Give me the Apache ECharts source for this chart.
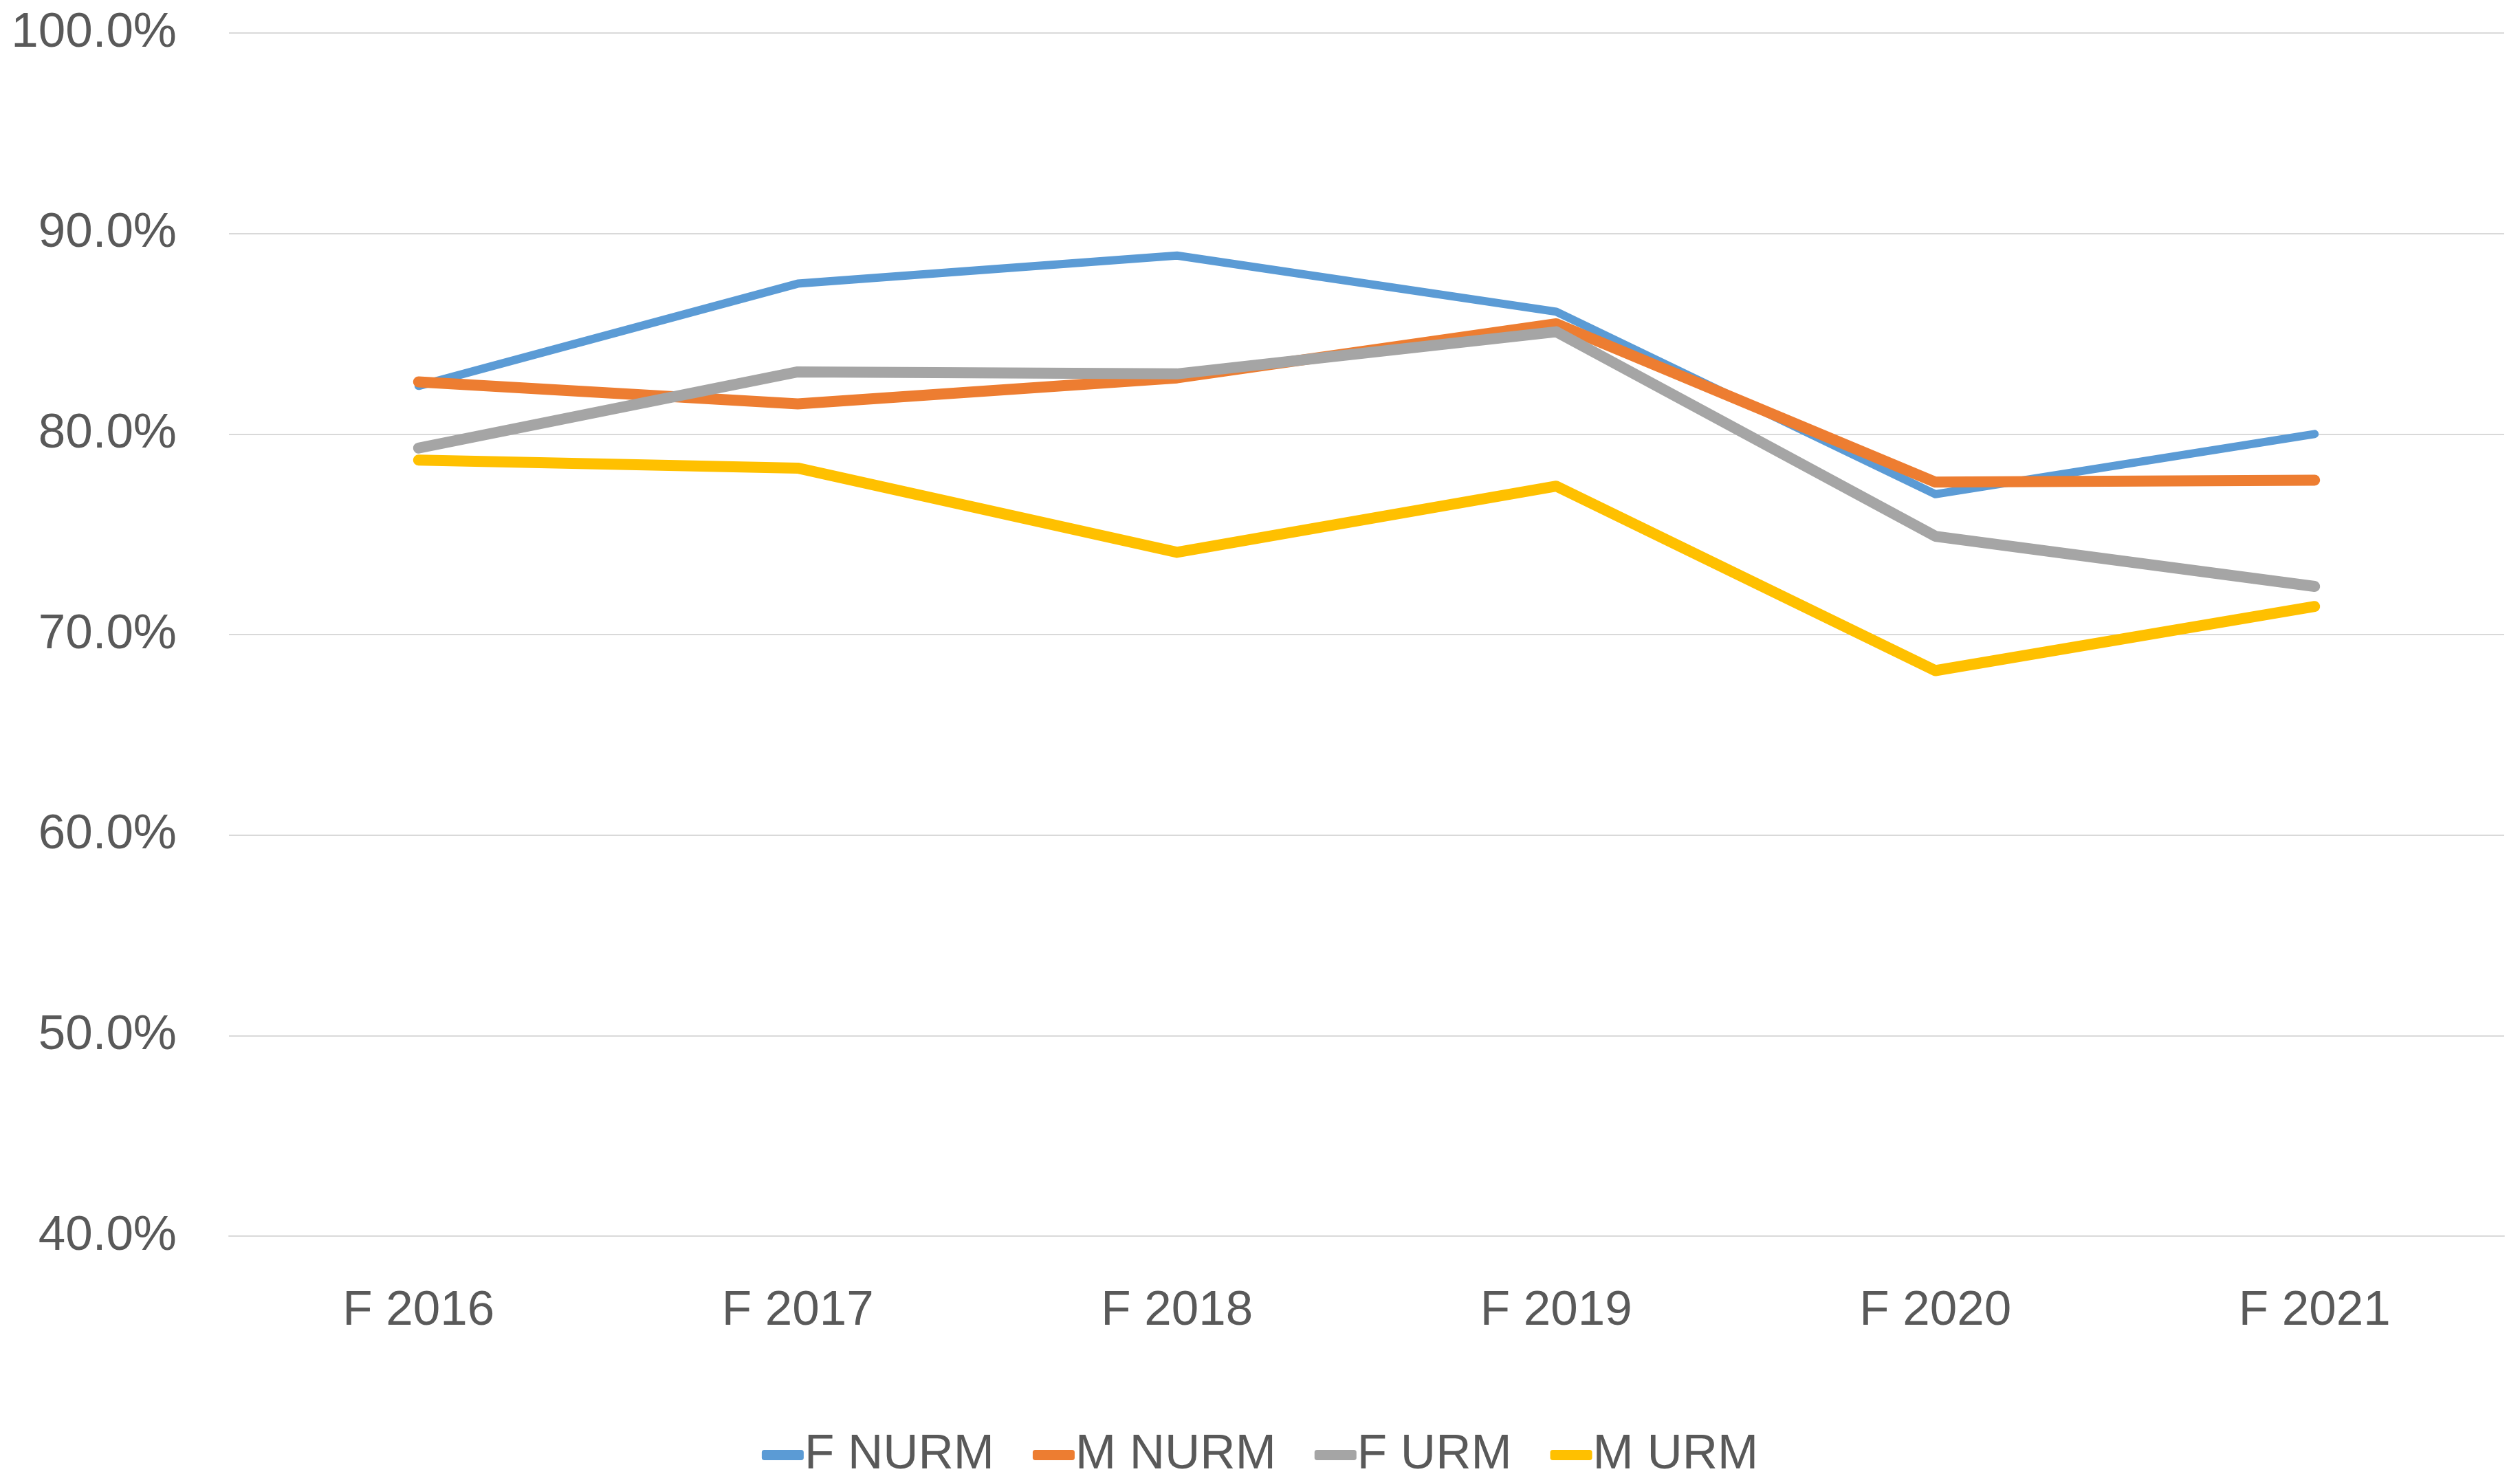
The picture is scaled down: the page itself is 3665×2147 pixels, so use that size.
<!DOCTYPE html>
<html>
<head>
<meta charset="utf-8">
<script src="https://cdn.jsdelivr.net/npm/echarts@6/dist/echarts.min.js"></script>
<style>
  html, body { margin: 0; padding: 0; background: #fff; }
  #chart { width: 3665px; height: 2147px; }
</style>
</head>
<body>
<div id="chart"></div>
<script>
const years = ['F 2016', 'F 2017', 'F 2018', 'F 2019', 'F 2020', 'F 2021'];
const fNurm = [82.4, 87.5, 88.9, 86.1, 77.0, 80.0];
const mNurm = [82.6, 81.5, 82.8, 85.5, 77.6, 77.7];
const fUrm = [79.3, 83.1, 83.0, 85.1, 74.9, 72.4];
const mUrm = [78.7, 78.3, 74.1, 77.4, 68.2, 71.4];

const font = '"Liberation Sans", Arial, sans-serif';
const textColor = '#595959';

const chart = echarts.init(document.getElementById('chart'));

function line(name, data, color, width) {
  return {
    name: name,
    type: 'line',
    data: data,
    showSymbol: false,
    symbol: 'none',
    smooth: false,
    itemStyle: { color: color },
    lineStyle: { color: color, width: width, cap: 'round', join: 'round' },
    animation: false
  };
}

chart.setOption({
  backgroundColor: '#fff',
  animation: false,
  grid: { left: 333, right: 23, top: 48, bottom: 349 },
  legend: {
    bottom: -10,
    left: 'center',
    icon: 'roundRect',
    itemWidth: 61,
    itemHeight: 15,
    itemGap: 56,
    textStyle: { fontFamily: font, fontSize: 71, color: textColor, padding: [0, 0, 0, -4] },
    data: ['F NURM', 'M NURM', 'F URM', 'M URM']
  },
  xAxis: {
    type: 'category',
    data: years,
    boundaryGap: true,
    axisLine: { show: true, lineStyle: { color: '#d9d9d9', width: 2 } },
    axisTick: { show: false },
    axisLabel: { fontFamily: font, fontSize: 71, color: textColor, margin: 74 }
  },
  yAxis: {
    type: 'value',
    min: 40,
    max: 100,
    interval: 10,
    axisLine: { show: false },
    axisTick: { show: false },
    axisLabel: {
      fontFamily: font, fontSize: 71, color: textColor, margin: 76,
      formatter: v => v.toFixed(1) + '%'
    },
    splitLine: { lineStyle: { color: '#d9d9d9', width: 2 } }
  },
  series: [
    line('F NURM', fNurm, '#5b9bd5', 12),
    line('M NURM', mNurm, '#ed7d31', 16),
    line('F URM', fUrm, '#a5a5a5', 16),
    line('M URM', mUrm, '#ffc000', 16)
  ]
});
</script>
</body>
</html>
